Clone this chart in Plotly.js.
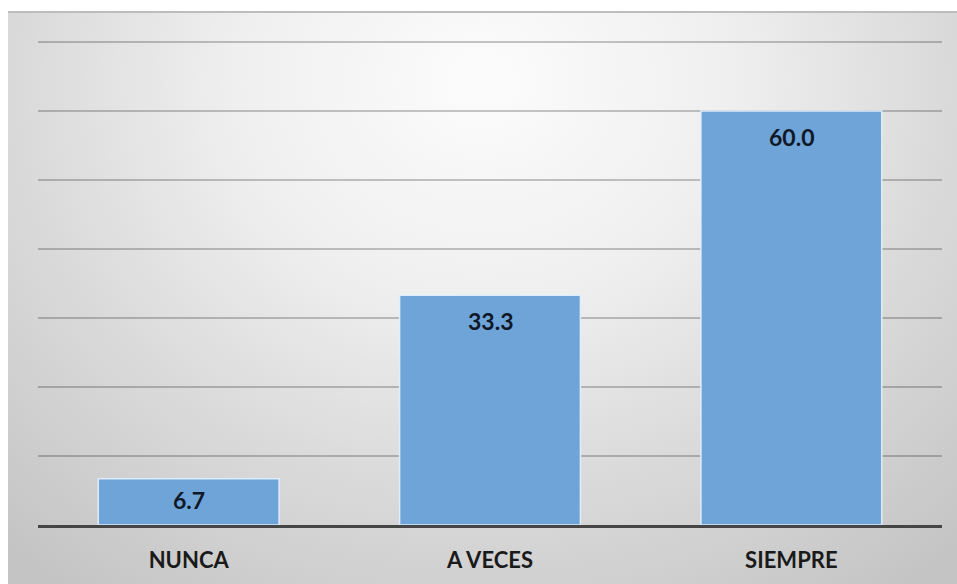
<!DOCTYPE html>
<html>
<head>
<meta charset="utf-8">
<script src="https://cdn.plot.ly/plotly-3.0.1.min.js"></script>
<style>
  html, body { margin: 0; padding: 0; background: #ffffff; }
  #frame {
    position: absolute; left: 8px; top: 11px;
    width: 949px; height: 573px;
    box-sizing: border-box;
    border-top: 2px solid #bdbdbd;
    background: radial-gradient(ellipse 75% 110% at 50% 12%, #fcfcfc 0%, #efefef 35%, #dadada 65%, #c4c4c4 100%);
  }
  #chart { width: 949px; height: 571px; }
</style>
</head>
<body>
<div id="frame"><div id="chart"></div></div>
<script>
// Frequency of responses (percent)
const categories = ["NUNCA", "A VECES", "SIEMPRE"];
const percentages = [6.7, 33.3, 60.0];
const yGridValues = [0, 10, 20, 30, 40, 50, 60, 70];

const W = 949, H = 571;
const margin = { l: 30, r: 15, t: 27, b: 59 };
const yMax = 70.3;
const pxPerUnit = (H - margin.t - margin.b) / yMax;

// Value labels sit inside the top of each bar
const labels = percentages.map((v, i) => {
  const barPx = v * pxPerUnit;
  return {
    x: categories[i], y: v, xref: "x", yref: "y",
    text: "<b>" + v.toFixed(1) + "</b>",
    showarrow: false, yanchor: "middle",
    yshift: -Math.min(26, barPx * 0.45),
    font: { family: "Lato, 'Open Sans', sans-serif", size: 23, color: "#101826" }
  };
});

const trace = {
  type: "bar",
  x: categories,
  y: percentages,
  width: 0.6,
  marker: {
    color: "#6ea4d8",
    line: { color: "rgba(225,238,252,0.95)", width: 1.5 }
  },
  hoverinfo: "skip"
};

const layout = {
  width: W, height: H,
  margin: margin,
  paper_bgcolor: "rgba(0,0,0,0)",
  plot_bgcolor: "rgba(0,0,0,0)",
  showlegend: false,
  xaxis: {
    type: "category",
    showline: true, linecolor: "#454545", linewidth: 3,
    showgrid: false, ticks: "",
    ticklabelstandoff: 14,
    tickfont: { family: "Lato, 'Open Sans', sans-serif", size: 22, color: "#1a1a1a", weight: "bold" }
  },
  yaxis: {
    range: [0, yMax],
    tickvals: yGridValues,
    showticklabels: false,
    showgrid: true, gridcolor: "rgba(0,0,0,0.22)", gridwidth: 1.5,
    zeroline: false, showline: false, ticks: ""
  },
  annotations: labels
};

Plotly.newPlot("chart", [trace], layout, { displayModeBar: false, staticPlot: true });
</script>
</body>
</html>
